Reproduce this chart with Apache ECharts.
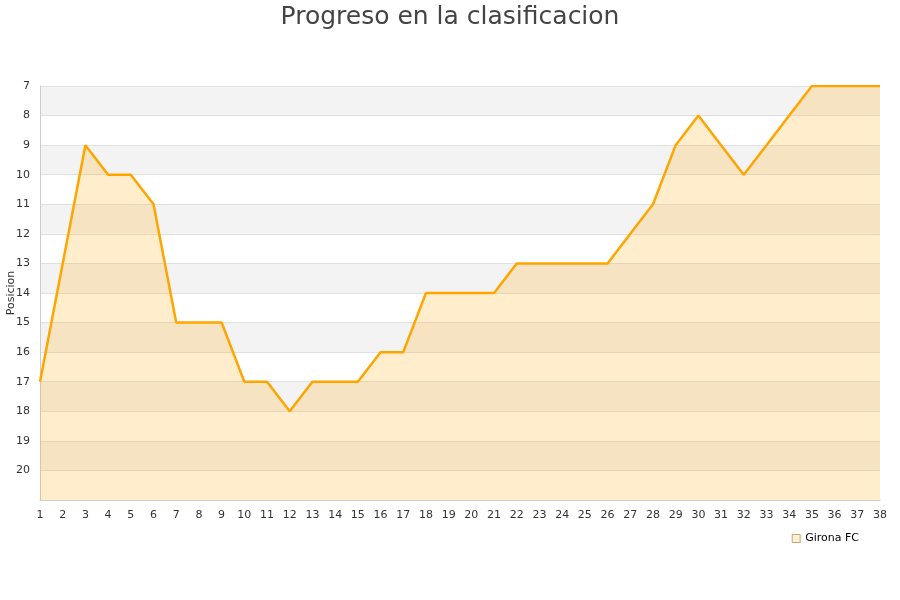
<!DOCTYPE html>
<html><head><meta charset="utf-8">
<script src="https://cdn.jsdelivr.net/npm/echarts@6/dist/echarts.min.js"></script>
<style>html,body{margin:0;padding:0;background:#fff}#c{width:900px;height:600px}</style>
</head><body><div id="c"></div>
<script>
const jornadas = ["1","2","3","4","5","6","7","8","9","10","11","12","13","14","15","16","17","18","19","20","21","22","23","24","25","26","27","28","29","30","31","32","33","34","35","36","37","38"];
const posiciones = [17,13,9,10,10,11,15,15,15,17,17,18,17,17,17,16,16,14,14,14,14,13,13,13,13,13,12,11,9,8,9,10,9,8,7,7,7,7];
const seriesName = "Girona FC";
const titleText = "Progreso en la clasificacion";
const yName = "Posicion";

const chart = echarts.init(document.getElementById('c'));
chart.setOption({
  animation: false,
  title: { text: titleText, left: 'center', top: 0, textStyle: { fontFamily: 'DejaVu Sans', fontSize: 25, fontWeight: 'normal', color: '#444' } },
  grid: { left: 40, right: 20, top: 86, bottom: 100, containLabel: false, outerBoundsMode: 'none' },
  legend: { right: 36, top: 528, icon: 'rect', itemWidth: 8, itemHeight: 8, textStyle: { fontFamily: 'DejaVu Sans', fontSize: 11, color: '#000' },
    data: [{ name: seriesName, itemStyle: { color: '#fff0d6', borderColor: '#c9a774', borderWidth: 1 } }] },
  xAxis: { type: 'category', data: jornadas, boundaryGap: false,
    axisLine: { lineStyle: { color: '#ccc' } }, axisTick: { show: false },
    axisLabel: { color: '#333', fontFamily: 'DejaVu Sans', fontSize: 11, margin: 10, interval: 0 } },
  yAxis: { type: 'value', inverse: true, min: 7, max: 21, interval: 1,
    name: yName, nameLocation: 'middle', nameGap: 23, nameMoveOverlap: false,
    nameTextStyle: { fontFamily: 'DejaVu Sans', fontSize: 11, color: '#333' },
    axisLine: { show: true, lineStyle: { color: '#ccc' } }, axisTick: { show: false },
    axisLabel: { color: '#333', fontFamily: 'DejaVu Sans', fontSize: 11, margin: 10, formatter: v => v === 21 ? '' : v },
    splitLine: { lineStyle: { color: '#e0e0e0' } },
    splitArea: { show: true, areaStyle: { color: ['#f3f3f3', '#ffffff'] } } },
  series: [{ name: seriesName, type: 'line', data: posiciones, symbol: 'none',
    lineStyle: { color: '#ffa500', width: 2.5 }, itemStyle: { color: '#ffa500' },
    areaStyle: { origin: 'end', color: 'rgba(255,165,0,0.2)', opacity: 1 } }]
});
</script></body></html>
